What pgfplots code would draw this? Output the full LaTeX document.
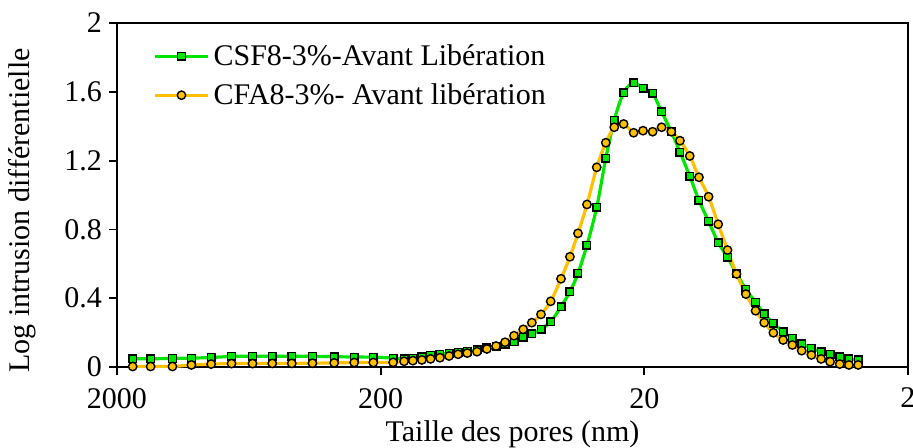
\documentclass[border=0pt]{standalone}
\usepackage{fontspec}
\setmainfont{Liberation Serif}
\usepackage{pgfplots}
\usepackage{pgfplotstable}
\pgfplotsset{compat=1.18}

\definecolor{vert}{RGB}{0,230,0}
\definecolor{jaune}{RGB}{255,192,0}

% taille des pores (nm), intrusion differentielle
\pgfplotstableread{
x      csf    cfa
1744   0.048  0.003
1491   0.048  0.003
1232   0.050  0.003
1044   0.052  0.012
878.7  0.055  0.017
735.6  0.062  0.020
612.4  0.063  0.020
515.3  0.063  0.021
434.6  0.063  0.021
362.9  0.062  0.022
300.0  0.060  0.024
252.0  0.058  0.026
213.2  0.057  0.026
179.4  0.052  0.027
163.0  0.048  0.033
150.9  0.050  0.037
139.5  0.060  0.041
129.3  0.068  0.047
119.2  0.074  0.054
110.0  0.080  0.064
101.7  0.087  0.074
93.9   0.093  0.081
86.2   0.099  0.089
79.1   0.112  0.105
73.0   0.122  0.122
67.5   0.132  0.144
62.4   0.147  0.182
57.6   0.173  0.219
53.4   0.192  0.258
49.3   0.221  0.306
45.3   0.263  0.382
41.4   0.351  0.513
38.3   0.438  0.641
35.7   0.545  0.777
33.0   0.709  0.945
30.3   0.929  1.161
28.0   1.213  1.304
26.0   1.436  1.394
23.96  1.595  1.413
21.96  1.653  1.362
20.23  1.620  1.374
18.6   1.591  1.368
17.2   1.484  1.394
15.8   1.368  1.368
14.65  1.250  1.316
13.45  1.110  1.227
12.41  0.969  1.103
11.41  0.847  0.990
10.49  0.723  0.830
9.67   0.638  0.680
8.94   0.545  0.541
8.24   0.452  0.424
7.57   0.377  0.327
7.02   0.310  0.258
6.48   0.254  0.199
5.95   0.205  0.157
5.49   0.167  0.128
5.06   0.134  0.095
4.65   0.109  0.070
4.27   0.089  0.047
3.95   0.074  0.031
3.63   0.060  0.017
3.35   0.047  0.012
3.09   0.041  0.012
}\poro

\newcommand{\ftxt}{\fontsize{15}{18}\selectfont}

\begin{document}
\begin{tikzpicture}
\useasboundingbox (-58.5pt,-40pt) rectangle (398pt,183.5pt);
\begin{axis}[
  scale only axis,
  width=395.5pt, height=172pt,
  xmode=log, x dir=reverse,
  xmin=2, xmax=2000,
  xtick={2,20,200,2000}, xticklabels={2,20,200,2000},
  xminorticks=false,
  ymin=0, ymax=2,
  ytick={0,0.4,0.8,1.2,1.6,2}, yticklabels={0,0.4,0.8,1.2,1.6,2},
  tick align=outside, tick pos=left,
  major tick length=4pt,
  axis line style={line width=0.9pt},
  every tick/.style={black, line width=0.9pt},
  /pgf/number format/assume math mode=true,
  ticklabel style={font=\ftxt},
  xticklabel style={yshift=-3pt},
  label style={font=\ftxt},
  xlabel={Taille des pores (nm)},
  ylabel={Log intrusion différentielle},
  xlabel style={at={(axis description cs:0.5,-0.195)}, anchor=center},
  ylabel style={at={(axis description cs:-0.12,0.455)}, anchor=center},
  legend cell align=left,
  legend style={at={(axis description cs:0,1)}, anchor=north west,
    xshift=15pt, yshift=-6.5pt, draw=none, fill=none, font=\ftxt,
    row sep=3.5pt},
  legend image code/.code={\draw[mark repeat=2,mark phase=2]
    plot coordinates {(0pt,0pt) (13.25pt,0pt) (26.5pt,0pt)};},
]
\addplot [vert, line width=1.6pt, smooth, mark=square*, mark size=1.9pt,
  mark options={fill=vert, draw=black, line width=0.7pt}]
  table [x=x, y=csf] {\poro};
\addlegendentry{CSF8-3\%-Avant Libération}
\addplot [jaune, line width=1.6pt, smooth, mark=*, mark size=2.1pt,
  mark options={fill=jaune, draw=black, line width=0.7pt}]
  table [x=x, y=cfa] {\poro};
\addlegendentry{CFA8-3\%- Avant libération}
\end{axis}
\end{tikzpicture}
\end{document}
